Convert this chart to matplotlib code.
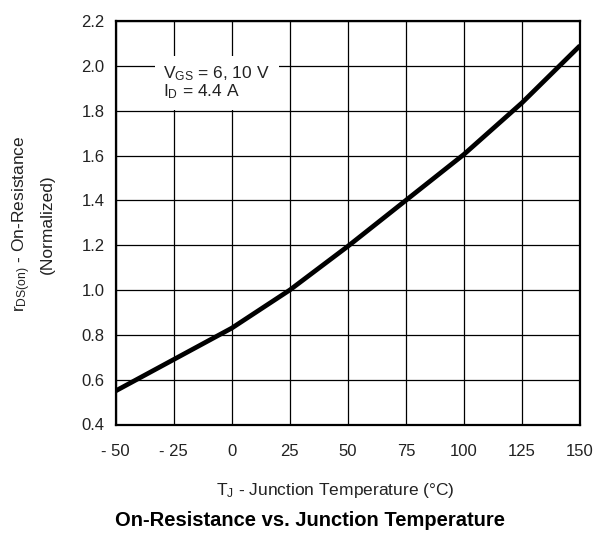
import matplotlib
matplotlib.use("Agg")
import matplotlib.pyplot as plt

plt.rcParams['font.family'] = ['Liberation Sans', 'DejaVu Sans']
plt.rcParams['mathtext.fontset'] = 'custom'
plt.rcParams['mathtext.rm'] = 'Liberation Sans'
plt.rcParams['mathtext.it'] = 'Liberation Sans'

temps = [-50, -25, 0, 25, 50, 75, 100, 125, 150]
rds_norm = [0.55, 0.69, 0.83, 1.0, 1.195, 1.40, 1.605, 1.835, 2.09]
x_ticks = [-50, -25, 0, 25, 50, 75, 100, 125, 150]
x_tick_labels = ['- 50', '- 25', '0', '25', '50', '75', '100', '125', '150']
y_ticks = [0.4, 0.6, 0.8, 1.0, 1.2, 1.4, 1.6, 1.8, 2.0, 2.2]
y_tick_labels = ['0.4', '0.6', '0.8', '1.0', '1.2', '1.4', '1.6', '1.8', '2.0', '2.2']

W, H = 610, 536
fig = plt.figure(figsize=(W/100, H/100), dpi=100)
ax = fig.add_axes([115.7/W, 1-424.5/H, (580-115.7)/W, (424.5-21)/H])

ax.plot(temps, rds_norm, color='black', lw=3.4, solid_capstyle='butt', zorder=3)
ax.set_xlim(-50, 150)
ax.set_ylim(0.4, 2.2)
ax.set_xticks(x_ticks)
ax.set_xticklabels(x_tick_labels)
ax.set_yticks(y_ticks)
ax.set_yticklabels(y_tick_labels)
ax.tick_params(length=0, labelsize=12, pad=8, colors='#222222')
ax.tick_params(axis='x', pad=14)
ax.grid(True, color='black', lw=0.9)
ax.set_axisbelow(True)
for s in ax.spines.values():
    s.set_linewidth(1.6)
    s.set_zorder(4)

ax.text(-29.5, 1.925, '$\\mathregular{V_{GS}}$ = 6, 10 V\n$\\mathregular{I_D}$ = 4.4 A',
        fontsize=12.5, va='center', ha='left', color='#222222', linespacing=0.95,
        bbox=dict(boxstyle='square,pad=0.5', fc='white', ec='none'), zorder=2)

fig.text(22/W, 1-224/H, '$\\mathregular{r_{DS(on)}}$ - On-Resistance', rotation=90,
         ha='center', va='center', fontsize=12.5, color='#222222')
fig.text(47/W, 1-224/H, '(Normalized)', rotation=90,
         ha='center', va='center', fontsize=12.5, color='#222222')
fig.text(335/W, 1-491/H, '$\\mathregular{T_J}$ - Junction Temperature (°C)',
         ha='center', va='center', fontsize=12.5, color='#222222')
fig.text(310/W, 1-521/H, 'On-Resistance vs. Junction Temperature',
         ha='center', va='center', fontsize=14.5, fontweight='bold', color='black')

fig.savefig('out.png', dpi=100, facecolor='white')
